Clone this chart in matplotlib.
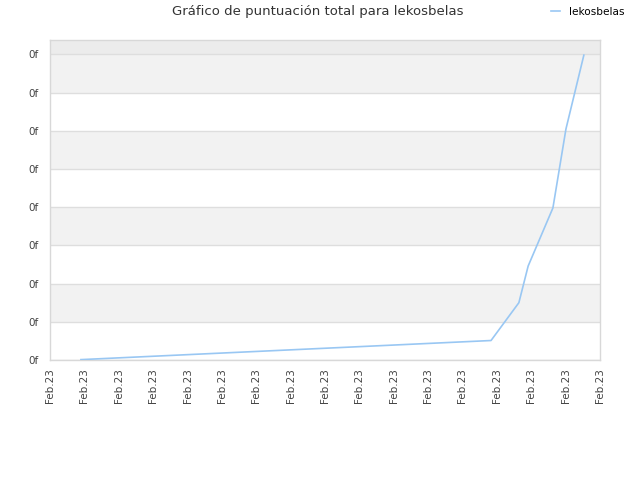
import matplotlib
matplotlib.use('Agg')
import matplotlib.pyplot as plt
from matplotlib.ticker import FixedLocator, FixedFormatter

# datos (unidades de rejilla)
x_vals = [0.90, 12.83, 13.64, 13.91, 14.63, 15.01, 15.53]
y_vals = [0.01, 0.51, 1.50, 2.46, 3.98, 6.05, 7.98]
x_ticks = list(range(17))
x_labels = ['Feb.23'] * 17
y_ticks = list(range(9))
y_labels = ['0f'] * 9
usuario = 'lekosbelas'

fig = plt.figure(figsize=(6.4, 4.8), dpi=100)
ax = fig.add_axes([50 / 640, 120 / 480, 550 / 640, 320 / 480])

x_max = 16
y_max = 320 / 38.2

# bandas alternas de fondo
for i in range(0, 8):
    if i % 2 == 1:
        ax.axhspan(i, i + 1, color='#f2f2f2', zorder=0, lw=0)
ax.axhspan(8, y_max, color='#ececec', zorder=0, lw=0)

ax.plot(x_vals, y_vals, color='#99c7f3', lw=1.2, label=usuario, zorder=3)

ax.set_xlim(0, x_max)
ax.set_ylim(0, y_max)
ax.xaxis.set_major_locator(FixedLocator(x_ticks))
ax.xaxis.set_major_formatter(FixedFormatter(x_labels))
ax.yaxis.set_major_locator(FixedLocator(y_ticks))
ax.yaxis.set_major_formatter(FixedFormatter(y_labels))
ax.tick_params(axis='x', rotation=90, labelsize=7.5, colors='#444444', length=0, pad=6)
ax.tick_params(axis='y', labelsize=7.5, colors='#444444', length=0, pad=8)
ax.grid(axis='y', color='#dedede', lw=1, zorder=1)
ax.set_axisbelow(True)
for s in ax.spines.values():
    s.set_color('#d8d8d8')
    s.set_linewidth(1)

fig.text(318 / 640, 1 - 12 / 480, 'Gráfico de puntuación total para ' + usuario,
         ha='center', va='center', fontsize=9.5, color='#333333')
fig.legend(loc='center left', bbox_to_anchor=(546 / 640, 1 - 12 / 480), frameon=False,
           fontsize=7.6, handlelength=0.8, handletextpad=0.9, borderpad=0)

fig.savefig('out.png', dpi=100)
